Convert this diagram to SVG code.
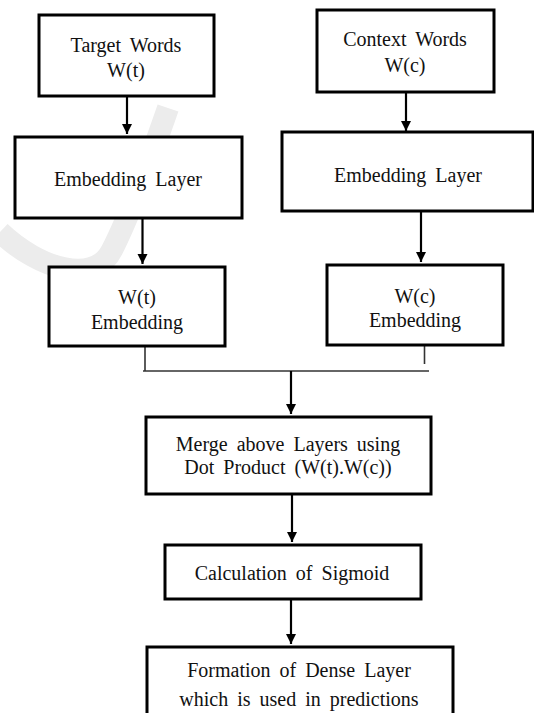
<svg xmlns="http://www.w3.org/2000/svg" width="534" height="713" viewBox="0 0 534 713">
<style>
.box{fill:#fff;stroke:#000;stroke-width:3}
.t{font-family:"Liberation Serif","Times New Roman",serif;font-size:20px;fill:#111;text-anchor:middle;word-spacing:4px}
.arr{stroke:#000;stroke-width:2.2;fill:none;marker-end:url(#ah)}
.ln{stroke:#333;stroke-width:1.6;fill:none}
</style>
<defs>
<marker id="ah" markerUnits="userSpaceOnUse" markerWidth="12" markerHeight="12" refX="10" refY="5" orient="auto">
<path d="M0,0 L10,5 L0,10 Z" fill="#000"/>
</marker>
</defs>
<rect width="534" height="713" fill="#fff"/>
<path d="M168,108 C150,160 130,215 112,250 C95,285 40,270 0,232" fill="none" stroke="#ececec" stroke-width="22"/>
<g id="connectors">
<line class="arr" x1="127" y1="97" x2="127" y2="134"/>
<line class="arr" x1="406" y1="93" x2="406" y2="131"/>
<line class="arr" x1="142.5" y1="219" x2="142.5" y2="264"/>
<line class="arr" x1="421" y1="212" x2="421" y2="262"/>
<line class="ln" x1="145" y1="347" x2="145" y2="371"/>
<line class="ln" x1="424.5" y1="346" x2="424.5" y2="364"/>
<line class="ln" x1="143" y1="371" x2="429" y2="371"/>
<line class="arr" x1="291" y1="371" x2="291" y2="414"/>
<line class="arr" x1="292" y1="495" x2="292" y2="542"/>
<line class="arr" x1="291" y1="600" x2="291" y2="644"/>
</g>
<g id="target">
<rect class="box" x="39" y="15" width="175" height="81"/>
<text class="t" x="126" y="52">Target  Words</text>
<text class="t" x="126" y="77">W(t)</text>
</g>
<g id="context">
<rect class="box" x="317" y="10" width="177" height="82"/>
<text class="t" x="405" y="46">Context  Words</text>
<text class="t" x="405" y="72">W(c)</text>
</g>
<g id="embedding-left">
<rect class="box" x="15" y="137" width="227" height="81"/>
<text class="t" x="128" y="186">Embedding  Layer</text>
</g>
<g id="embedding-right">
<rect class="box" x="282" y="132" width="251" height="79"/>
<text class="t" x="408" y="182">Embedding  Layer</text>
</g>
<g id="wt-embedding">
<rect class="box" x="49" y="267" width="176" height="79"/>
<text class="t" x="137" y="304">W(t)</text>
<text class="t" x="137" y="329">Embedding</text>
</g>
<g id="wc-embedding">
<rect class="box" x="327" y="265" width="176" height="80"/>
<text class="t" x="415" y="303">W(c)</text>
<text class="t" x="415" y="327">Embedding</text>
</g>
<g id="merge">
<rect class="box" x="146" y="417" width="285" height="77"/>
<text class="t" x="288" y="451">Merge  above Layers  using</text>
<text class="t" x="288" y="474">Dot Product  (W(t).W(c))</text>
</g>
<g id="sigmoid">
<rect class="box" x="165" y="545" width="256" height="54"/>
<text class="t" x="292" y="580">Calculation  of Sigmoid</text>
</g>
<g id="dense">
<rect class="box" x="147" y="647" width="306" height="80"/>
<text class="t" x="299" y="677">Formation  of Dense Layer</text>
<text class="t" x="299" y="706">which  is  used  in  predictions</text>
</g>
</svg>
